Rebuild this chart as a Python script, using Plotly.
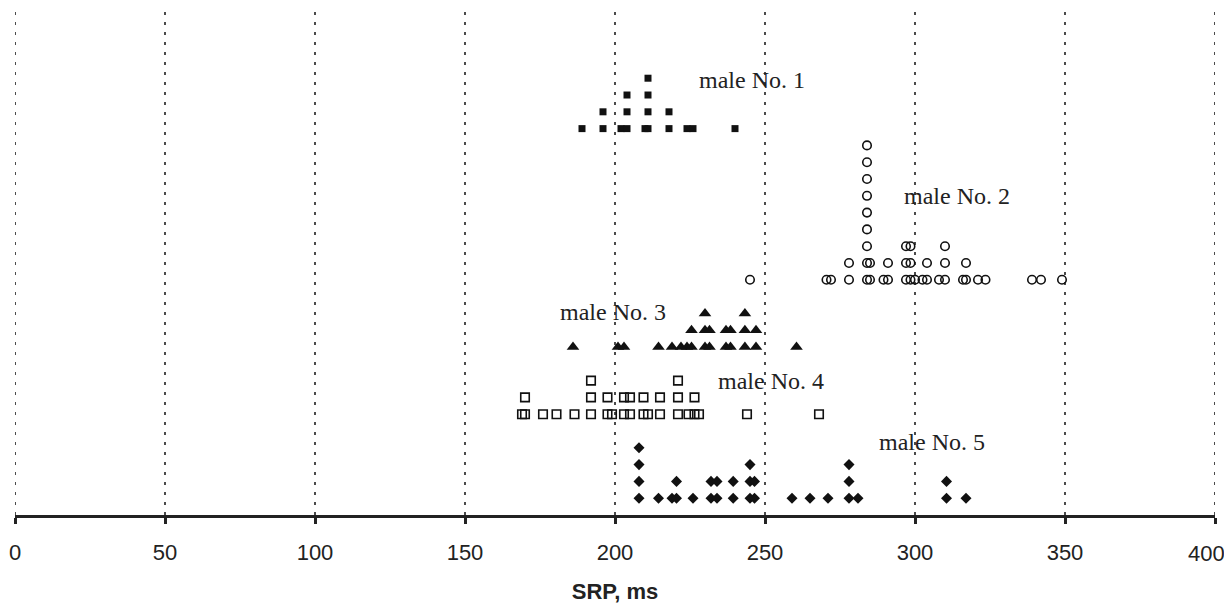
import plotly.graph_objects as go

# SRP values (ms) for each male; repeated values stack upward
male1 = [189, 196, 196, 202, 204, 204, 204, 210, 211, 211, 211, 211,
         218, 218, 224, 226, 240]
male2 = [245, 270.5, 272, 278, 278] + [284] * 9 + [285, 285, 289.5, 291, 291] + \
        [297] * 3 + [298.5] * 3 + [300, 302.5, 304, 304, 308] + [310] * 3 + \
        [316, 317, 317, 321, 323.5, 339, 342, 349]
male3 = [186, 201, 203, 214.5, 219, 222, 224, 225.5, 225.5, 230, 230, 230,
         231.5, 231.5, 237, 237, 238.5, 238.5, 243.3, 243.3, 243.3, 247, 247, 260.5]
male4 = [169, 170, 170, 176, 180.5, 186.5, 192, 192, 192, 197.5, 197.5, 199,
         203, 203, 205, 205, 209.5, 209.5, 211, 215, 215, 221, 221, 221,
         224.5, 226.5, 226.5, 228, 244, 268]
male5 = [208, 208, 208, 208, 214.5, 219, 220.5, 220.5, 226, 232, 232, 234, 234,
         239.4, 239.4, 245, 245, 245, 246.5, 246.5, 259, 265, 271,
         278, 278, 278, 281, 310.5, 310.5, 317]

labels = ["male No. 1", "male No. 2", "male No. 3", "male No. 4", "male No. 5"]
label_x = [245.7, 314, 199.3, 252, 305.7]
label_y = [25.9, 19.0, 12.08, 7.98, 4.35]

tick_vals = [0, 50, 100, 150, 200, 250, 300, 350, 400]
tick_text = ["0", "50", "100", "150", "200", "250", "300", "350", "400"]


def stack(values, base):
    counts = {}
    ys = []
    for v in values:
        k = counts.get(v, 0)
        ys.append(base + k)
        counts[v] = k + 1
    return ys


ink = "#111111"
series = [
    (male1, 23, dict(symbol="square", size=7, color=ink)),
    (male2, 14, dict(symbol="circle-open", size=8.5, color=ink, line=dict(width=1.6, color=ink))),
    (male3, 10, dict(symbol="triangle-up", size=11, color=ink)),
    (male4, 6, dict(symbol="square-open", size=8.5, color=ink, line=dict(width=1.6, color=ink))),
    (male5, 1, dict(symbol="diamond", size=8.5, color=ink)),
]

fig = go.Figure()
for vals, base, mk in series:
    fig.add_trace(go.Scatter(x=vals, y=stack(vals, base), mode="markers",
                             marker=mk, showlegend=False, hoverinfo="x"))

for t, x, y in zip(labels, label_x, label_y):
    fig.add_annotation(x=x, y=y, text=t, showarrow=False,
                       font=dict(family="Liberation Serif", size=24, color="#222222"))

# dotted vertical grid lines (including both ends of the axis)
for v in tick_vals:
    fig.add_shape(type="line", xref="x", yref="paper", x0=v, x1=v, y0=0, y1=1,
                  line=dict(color="#000000", width=1.4, dash="3px,7px"), layer="below")

# last tick label drawn separately so it stays inside the page
fig.add_annotation(x=tick_vals[-1], xref="x", y=0, yref="paper", yanchor="top",
                   yshift=-24, xshift=-9, text=tick_text[-1], showarrow=False,
                   font=dict(family="Liberation Sans", size=22, color="#222222"))

fig.update_layout(
    width=1224, height=605,
    margin=dict(l=15, r=9, t=10, b=90, autoexpand=False),
    paper_bgcolor="white", plot_bgcolor="white",
    xaxis=dict(range=[0, 400], tickvals=tick_vals,
               ticktext=tick_text[:-1] + [""], automargin=False,
               showgrid=False, zeroline=False, showline=True,
               linecolor="#222222", linewidth=3,
               ticks="outside", ticklen=6, tickwidth=3, tickcolor="#222222",
               ticklabelstandoff=10,
               tickfont=dict(family="Liberation Sans", size=22, color="#222222"),
               title=dict(text="<b>SRP, ms</b>", standoff=20,
                          font=dict(family="Liberation Sans", size=22, color="#222222"))),
    yaxis=dict(range=[0, 30.06], visible=False, showgrid=False, zeroline=False),
)

fig.write_html("out.html")
